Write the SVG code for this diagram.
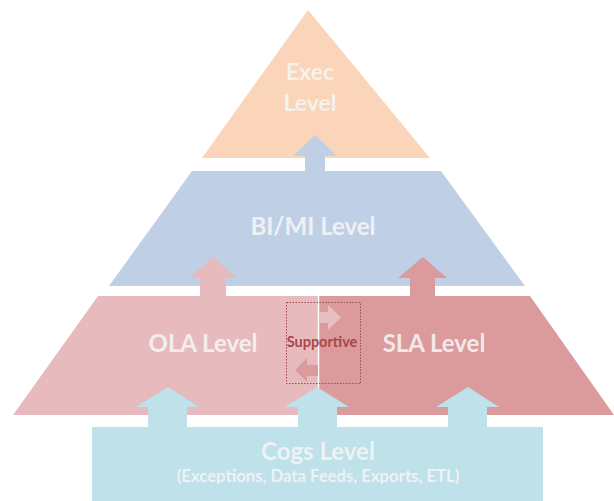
<svg xmlns="http://www.w3.org/2000/svg" width="614" height="501" viewBox="0 0 614 501">
<defs>
<style>
.lbl{font-family:Lato,"Open Sans","Liberation Sans",sans-serif;font-weight:bold;fill:#F5F5F5;fill-opacity:0.9;text-anchor:middle}
.exec{fill:#FAD5B9}
.bimi{fill:#BFD0E6}
.ola{fill:#E7BBBD}
.sla{fill:#DB9A9B}
.cogs{fill:#BEE1EA}
</style>
<clipPath id="cutText"><rect x="0" y="0" width="614" height="484"/></clipPath>
</defs>
<rect width="614" height="501" fill="#FFFFFF"/>
<g id="exec">
<polygon class="exec" points="308,10 430,158 202,158"/>
<text class="lbl" x="310" y="80" font-size="23">Exec</text>
<text class="lbl" x="310" y="111" font-size="23">Level</text>
</g>
<g id="bimi">
<polygon class="bimi" points="192,171 441,171 525,286 109,286"/>
<text class="lbl" x="313" y="235" font-size="24">BI/MI Level</text>
</g>
<g id="ola">
<polygon class="ola" points="98,296 318,296 318,415 13,415"/>
<text class="lbl" x="203" y="352" font-size="24">OLA Level</text>
</g>
<g id="sla">
<polygon class="sla" points="318,296 530,296 614,415 318,415"/>
<text class="lbl" x="434" y="352" font-size="24">SLA Level</text>
</g>
<line x1="318.5" y1="296" x2="318.5" y2="388" stroke="#FFFFFF" stroke-width="1.5"/>
<g id="cogs">
<rect class="cogs" x="92" y="427" width="451" height="74"/>
<text class="lbl" x="318" y="460" font-size="24">Cogs Level</text>
<text class="lbl" x="318" y="482" font-size="16.7" clip-path="url(#cutText)">(Exceptions, Data Feeds, Exports, ETL)</text>
</g>
<g id="connectors">
<polygon class="bimi" points="305,172 305,156 293,156 315,135 337,156 325,156 325,172"/>
<polygon class="ola" points="200,297 200,278 189,278 213,257 237,278 226,278 226,297"/>
<polygon class="sla" points="410,297 410,278 398,278 423,257 447,278 435,278 435,297"/>
<polygon class="cogs" points="148,430 148,407 136,407 168,387 199,407 187,407 187,430"/>
<polygon class="cogs" points="298,430 298,407 285,407 317,387 349,407 337,407 337,430"/>
<polygon class="cogs" points="448,430 448,407 436,407 468,387 499,407 487,407 487,430"/>
<polygon fill="#E8BFC0" points="319,312 328,312 328,305 341,317.5 328,330 328,323 319,323"/>
<polygon class="sla" points="318,365 307,365 307,358 295,370 307,382 307,376 318,376"/>
</g>
<g id="supportive">
<rect x="286.5" y="302.5" width="74" height="81" fill="none" stroke="#9E4A4E" stroke-width="1" stroke-dasharray="1.5 1.5"/>
<text x="322" y="347" font-family="Lato,'Open Sans','Liberation Sans',sans-serif" font-weight="bold" font-size="14.5" fill="#A9474B" text-anchor="middle">Supportive</text>
</g>
</svg>
